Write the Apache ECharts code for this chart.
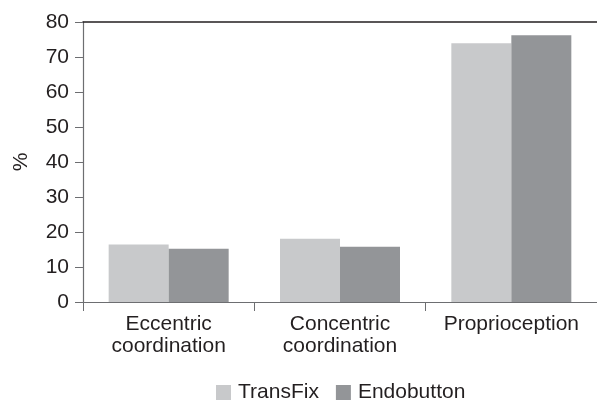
<!DOCTYPE html>
<html><head><meta charset="utf-8">
<script src="https://cdn.jsdelivr.net/npm/echarts@6/dist/echarts.min.js"></script>
<style>html,body{margin:0;padding:0;background:#fff}#c{width:597px;height:402px}</style>
</head><body><div id="c"></div>
<script>
const categories = ["Eccentric\ncoordination", "Concentric\ncoordination", "Proprioception"];
const transFix = [16.4, 18.1, 73.9];
const endobutton = [15.2, 15.8, 76.2];
const yTicks = [0, 10, 20, 30, 40, 50, 60, 70, 80];

const font = "Liberation Sans, Arial, Helvetica, sans-serif";
const txt = "#231f20";
const chart = echarts.init(document.getElementById('c'), null, {renderer: 'canvas'});
chart.setOption({
  animation: false,
  textStyle: {fontFamily: font},
  grid: {left: 83, right: 0, top: 22, bottom: 100, containLabel: false, outerBoundsMode: 'none'},
  legend: {
    data: ["TransFix", "Endobutton"],
    top: 382, left: 216, padding: 0,
    itemWidth: 15, itemHeight: 15, itemGap: 17,
    icon: 'rect',
    textStyle: {fontSize: 21, color: txt, fontFamily: font, padding: [0,0,0,2]}
  },
  xAxis: [{
    type: 'category', data: categories,
    axisLine: {lineStyle: {color: '#6d6e71', width: 1.2}},
    axisTick: {show: true, interval: 0, length: 9, lineStyle: {color: '#6d6e71'}},
    axisLabel: {interval: 0, hideOverlap: false, fontSize: 21, color: txt, lineHeight: 22, margin: 11, fontFamily: font}
  }, {
    type: 'category', data: categories, position: 'top',
    axisLine: {show: true, lineStyle: {color: '#231f20', width: 1.5}},
    axisTick: {show: false}, axisLabel: {show: false}
  }],
  yAxis: {
    type: 'value', min: yTicks[0], max: yTicks[yTicks.length-1], interval: 10,
    name: '%', nameLocation: 'middle', nameGap: 51, nameRotate: 90,
    nameTextStyle: {fontSize: 21, color: txt, fontFamily: font},
    axisLine: {show: true, lineStyle: {color: '#6d6e71', width: 1.2}},
    axisTick: {show: true, length: 8, lineStyle: {color: '#6d6e71'}},
    splitLine: {show: false},
    axisLabel: {fontSize: 21, color: txt, margin: 14, fontFamily: font}
  },
  series: [
    {name: 'TransFix', type: 'bar', data: transFix, barWidth: 60, barGap: '0%',
     itemStyle: {color: '#c8c9cb'}},
    {name: 'Endobutton', type: 'bar', data: endobutton, barWidth: 60, barGap: '0%',
     itemStyle: {color: '#939598'}}
  ]
});
</script></body></html>
